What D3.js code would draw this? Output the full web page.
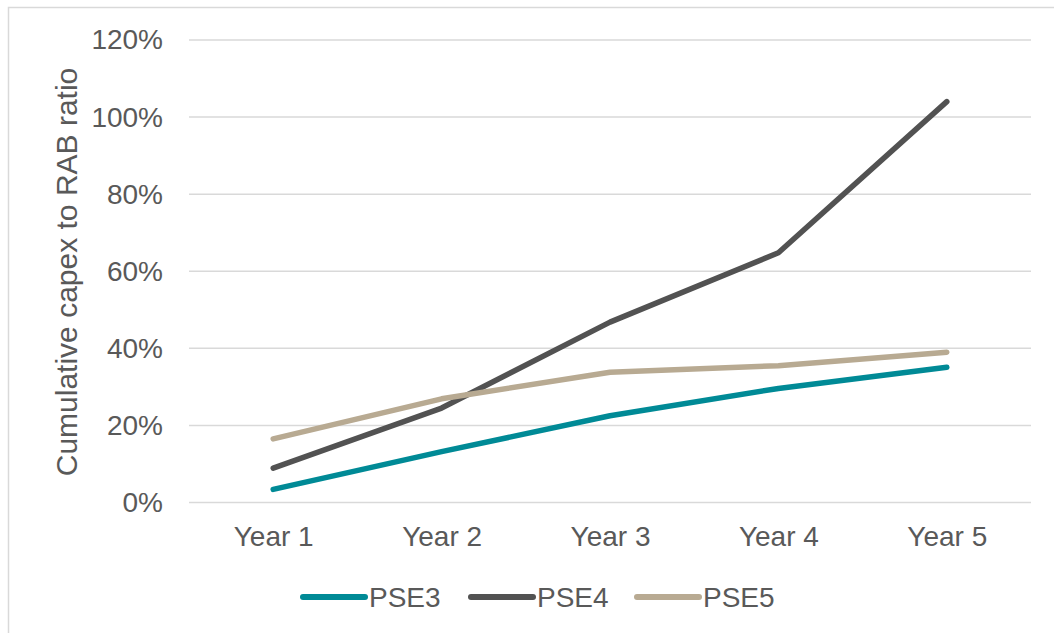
<!DOCTYPE html>
<html>
<head>
<meta charset="utf-8">
<script src="https://cdn.jsdelivr.net/npm/d3@7"></script>
<style>
  html, body { margin: 0; padding: 0; background: #fff; }
  svg { display: block; font-family: "Liberation Sans", Arial, sans-serif; }
</style>
</head>
<body>
<svg id="chart" width="1054" height="633"></svg>
<script>
// Cumulative capex as a share of RAB, by year of the price control period
const categories = ["Year 1", "Year 2", "Year 3", "Year 4", "Year 5"];
const seriesNames = ["PSE3", "PSE4", "PSE5"];
const pse3 = [3.4, 13.2, 22.5, 29.6, 35.1];
const pse4 = [8.9, 24.5, 46.8, 64.8, 104.0];
const pse5 = [16.5, 26.9, 33.8, 35.5, 39.0];
const yTicks = [0, 20, 40, 60, 80, 100, 120];
const yTitle = "Cumulative capex to RAB ratio";

const colors = { PSE3: "#008A96", PSE4: "#525252", PSE5: "#B8AA92" };
const series = [
  { name: "PSE3", values: pse3 },
  { name: "PSE4", values: pse4 },
  { name: "PSE5", values: pse5 }
];

const svg = d3.select("#chart");
const textColor = "#595959";

// chart frame
svg.append("rect")
  .attr("x", 8.5).attr("y", 7.5)
  .attr("width", 1100).attr("height", 700)
  .attr("fill", "none").attr("stroke", "#D9D9D9").attr("stroke-width", 1.5);

const plot = { left: 189, right: 1031, top: 40, bottom: 502.5 };

const x = d3.scalePoint().domain(categories)
  .range([plot.left, plot.right]).padding(0.5);
const y = d3.scaleLinear().domain([0, 120]).range([plot.bottom, plot.top]);

// gridlines
svg.append("g").selectAll("line").data(yTicks).join("line")
  .attr("x1", plot.left).attr("x2", plot.right)
  .attr("y1", d => y(d)).attr("y2", d => y(d))
  .attr("stroke", "#D9D9D9").attr("stroke-width", 1.5);

// y axis labels
const yAxis = svg.append("g")
  .attr("transform", `translate(${plot.left},0)`)
  .call(d3.axisLeft(y).tickValues(yTicks).tickFormat(d => d + "%").tickSize(0).tickPadding(26));
yAxis.select(".domain").remove();
yAxis.selectAll("text")
  .attr("fill", textColor)
  .style("font-size", "28px")
  .style("font-family", "'Liberation Sans', Arial, sans-serif");

// x axis labels
const xAxis = svg.append("g")
  .attr("transform", `translate(0,${plot.bottom})`)
  .call(d3.axisBottom(x).tickSize(0).tickPadding(24));
xAxis.select(".domain").remove();
xAxis.selectAll("text")
  .attr("fill", textColor)
  .style("font-size", "28px")
  .style("font-family", "'Liberation Sans', Arial, sans-serif");

// y axis title
svg.append("text")
  .attr("transform", `translate(77,272) rotate(-90)`)
  .attr("text-anchor", "middle")
  .attr("fill", textColor)
  .style("font-size", "30px")
  .text(yTitle);

// series lines
const line = d3.line()
  .x((d, i) => x(categories[i]))
  .y(d => y(d));

svg.append("g").selectAll("path").data(series).join("path")
  .attr("d", d => line(d.values))
  .attr("fill", "none")
  .attr("stroke", d => colors[d.name])
  .attr("stroke-width", 5.5)
  .attr("stroke-linecap", "round")
  .attr("stroke-linejoin", "round");

// legend
const legendX = [303, 471, 637];
const legend = svg.append("g").selectAll("g").data(seriesNames).join("g")
  .attr("transform", (d, i) => `translate(${legendX[i]},597)`);
legend.append("line")
  .attr("x1", 0).attr("x2", 62)
  .attr("y1", 0).attr("y2", 0)
  .attr("stroke", d => colors[d])
  .attr("stroke-width", 6)
  .attr("stroke-linecap", "round");
legend.append("text")
  .attr("x", 66).attr("y", 10)
  .attr("fill", textColor)
  .style("font-size", "28px")
  .text(d => d);
</script>
</body>
</html>
